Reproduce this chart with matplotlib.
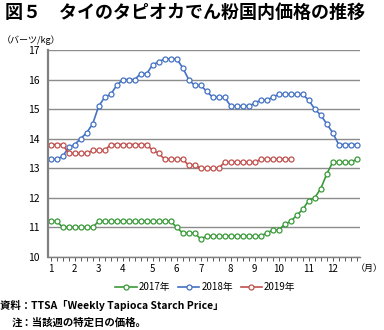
import numpy as np
import matplotlib
matplotlib.use("Agg")
import matplotlib.pyplot as plt

plt.rcParams['font.family'] = ['Noto Sans CJK JP', 'DejaVu Sans']

# weekly prices (baht/kg), index = week of year
y2017 = [11.2, 11.2, 11.0, 11.0, 11.0, 11.0, 11.0, 11.0,
         11.2, 11.2, 11.2, 11.2, 11.2, 11.2, 11.2, 11.2, 11.2, 11.2, 11.2, 11.2, 11.2,
         11.0, 10.8, 10.8, 10.8, 10.6,
         10.7, 10.7, 10.7, 10.7, 10.7, 10.7, 10.7, 10.7, 10.7, 10.7,
         10.8, 10.9, 10.9, 11.1, 11.2, 11.4, 11.6, 11.9, 12.0, 12.3, 12.8,
         13.2, 13.2, 13.2, 13.2, 13.3]
y2018 = [13.3, 13.3, 13.4, 13.7, 13.8, 14.0, 14.2, 14.5, 15.1, 15.4, 15.5, 15.8,
         16.0, 16.0, 16.0, 16.2, 16.2, 16.5, 16.6, 16.7, 16.7, 16.7,
         16.4, 16.0, 15.8, 15.8, 15.6, 15.4, 15.4, 15.4,
         15.1, 15.1, 15.1, 15.1, 15.2, 15.3, 15.3, 15.4,
         15.5, 15.5, 15.5, 15.5, 15.5, 15.3, 15.0, 14.8, 14.5, 14.2,
         13.8, 13.8, 13.8, 13.8]
y2019 = [13.8, 13.8, 13.8, 13.5, 13.5, 13.5, 13.5, 13.6, 13.6, 13.6,
         13.8, 13.8, 13.8, 13.8, 13.8, 13.8, 13.8, 13.6, 13.5,
         13.3, 13.3, 13.3, 13.3, 13.1, 13.1, 13.0, 13.0, 13.0, 13.0,
         13.2, 13.2, 13.2, 13.2, 13.2, 13.2, 13.3, 13.3, 13.3, 13.3, 13.3, 13.3]

month_pos = [0, 4, 8, 12, 17, 21, 25, 30, 34, 38, 43, 47]
month_labels = [str(m) for m in range(1, 13)]

series = [("2017年", y2017, "#3a9a3a"),
          ("2018年", y2018, "#4472c4"),
          ("2019年", y2019, "#c0504d")]

fig = plt.figure(figsize=(3.84, 3.30), dpi=100)
ax = fig.add_axes([0.125, 0.222, 0.8125, 0.6265])

for name, vals, col in series:
    ax.plot(np.arange(len(vals)), vals, color=col, lw=1.2, marker='o', ms=3.6,
            mfc='white', mec=col, mew=0.9, label=name)

ax.set_xlim(-0.45, 51.55)
ax.set_ylim(10, 17)
ax.set_yticks(range(10, 18))
ax.set_xticks(month_pos)
ax.set_xticklabels(month_labels)
ax.set_xticks(np.arange(52), minor=True)
ax.tick_params(axis='x', which='both', direction='out', length=3, width=0.7,
               color='#555555', labelsize=7, pad=2)
ax.tick_params(axis='y', length=0, labelsize=7.5, pad=6)
ax.grid(axis='y', color='#8c8c8c', lw=1.0)
ax.set_axisbelow(True)
for s in ['top', 'right']:
    ax.spines[s].set_visible(False)
ax.spines['left'].set_color('#808080')
ax.spines['left'].set_linewidth(1.6)
ax.spines['bottom'].set_color('#808080')
ax.spines['bottom'].set_linewidth(1.0)

fig.text(0.012, 0.963, "図５　タイのタピオカでん粉国内価格の推移", fontsize=13,
         fontweight='bold', va='center', ha='left')
fig.text(0.005, 0.878, "（バーツ/kg）", fontsize=6.5, va='center', ha='left')
fig.text(0.997, 0.186, "（月）", fontsize=6.5, va='center', ha='right')

leg = fig.legend(loc='center', bbox_to_anchor=(0.535, 0.13), ncol=3, frameon=False,
                 fontsize=7, handlelength=2.2, handletextpad=0.2, columnspacing=0.8)

fig.text(0.0, 0.075, "資料：TTSA「Weekly Tapioca Starch Price」", fontsize=7.5,
         fontweight='bold', va='center', ha='left')
fig.text(0.03, 0.022, "注：当該週の特定日の価格。", fontsize=7.5,
         fontweight='bold', va='center', ha='left')

fig.savefig("out.png", dpi=100)
